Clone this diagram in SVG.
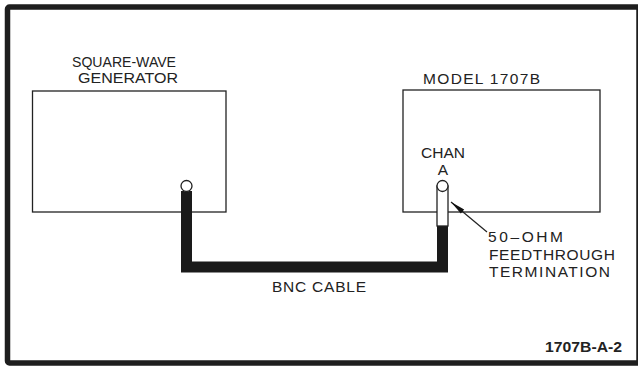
<svg xmlns="http://www.w3.org/2000/svg" width="638" height="369" viewBox="0 0 638 369">
<defs>
<style>
.t{font-family:"Liberation Sans",Arial,sans-serif;font-size:15.5px;fill:#222;}
.b{font-family:"Liberation Sans",Arial,sans-serif;font-size:14.5px;font-weight:bold;fill:#222;}
.box{fill:none;stroke:#222;stroke-width:1.3;}
.jack{fill:#fff;stroke:#222;stroke-width:1.3;}
</style>
<marker id="arr" markerWidth="16" markerHeight="6" refX="0" refY="3" orient="auto" markerUnits="userSpaceOnUse">
<path d="M0,3 L15,0.4 L15,5.6 Z" fill="#111"/>
</marker>
</defs>
<rect width="638" height="369" fill="#fff"/>
<rect id="frame" x="7.5" y="7" width="631.5" height="356" fill="none" stroke="#1e1e1e" stroke-width="5.5" rx="2"/>

<g id="generator">
<rect class="box" x="32.5" y="91" width="193.5" height="121"/>
<text class="t" x="72" y="67" textLength="104" lengthAdjust="spacingAndGlyphs">SQUARE-WAVE</text>
<text class="t" x="78" y="83" textLength="100" lengthAdjust="spacingAndGlyphs">GENERATOR</text>
</g>

<g id="model">
<rect class="box" x="403" y="90" width="197" height="122"/>
<text class="t" x="423" y="84" textLength="117" lengthAdjust="spacing">MODEL 1707B</text>
<text class="t" x="443" y="158" text-anchor="middle">CHAN</text>
<text class="t" x="443" y="175" text-anchor="middle">A</text>
</g>

<g id="connectors">
<polyline points="186.5,191 186.5,267 442.5,267 442.5,224" fill="none" stroke="#1a1a1a" stroke-width="11" stroke-linejoin="miter"/>
<circle class="jack" cx="186.5" cy="186" r="5.5"/>
<rect class="jack" x="437" y="186" width="11" height="40"/>
<circle class="jack" cx="442.5" cy="186" r="5.5"/>
<line x1="451" y1="202" x2="487" y2="232" stroke="#222" stroke-width="1.2" marker-start="url(#arr)"/>
</g>

<g id="termination">
<text class="t" x="488" y="242" textLength="75" lengthAdjust="spacing">50–OHM</text>
<text class="t" x="489" y="260" textLength="126" lengthAdjust="spacing">FEEDTHROUGH</text>
<text class="t" x="489" y="277" textLength="121" lengthAdjust="spacing">TERMINATION</text>
</g>

<g id="cable-label">
<text class="t" x="272" y="292" textLength="94" lengthAdjust="spacing">BNC CABLE</text>
</g>

<g id="figure-id">
<text class="b" x="545" y="352" textLength="77" lengthAdjust="spacingAndGlyphs">1707B-A-2</text>
</g>
</svg>
